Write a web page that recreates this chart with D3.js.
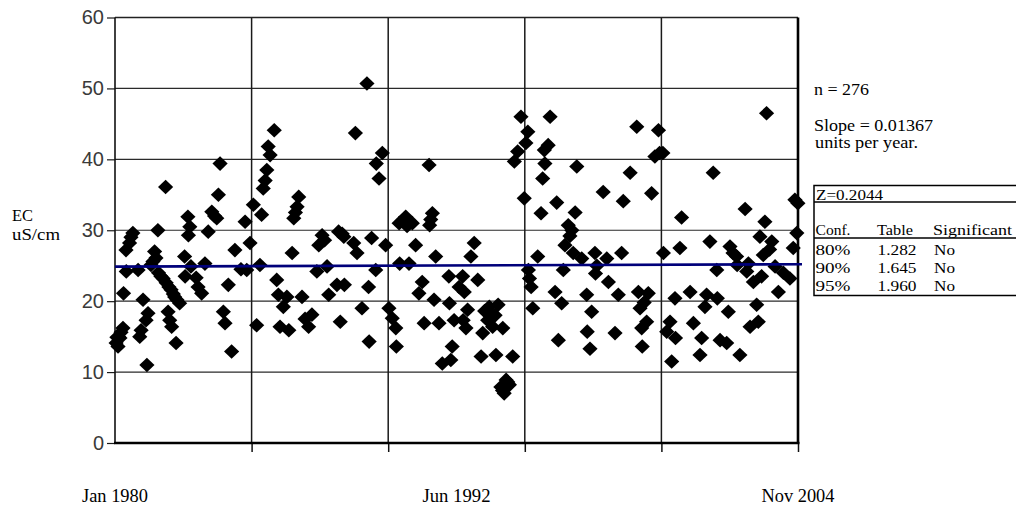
<!DOCTYPE html>
<html>
<head>
<meta charset="utf-8">
<script src="https://cdn.jsdelivr.net/npm/d3@7"></script>
<style>
  body { margin: 0; background: #fff; }
  svg { display: block; }
</style>
</head>
<body>
<svg id="chart" width="1016" height="508"></svg>
<script>
// Sample dates (decimal years) and electrical conductivity readings, uS/cm
const sampleYear = [
  1980.04,1980.07,1980.11,1980.13,1980.18,1980.22,1980.29,1980.31,1980.40,1980.41,
  1980.53,1980.58,1980.65,1980.84,1980.90,1980.95,1981.02,1981.13,1981.16,1981.20,
  1981.31,1981.38,1981.44,1981.49,1981.56,1981.58,1981.67,1981.75,1981.84,1981.86,
  1981.93,1981.96,1981.99,1982.04,1982.06,1982.12,1982.17,1982.22,1982.25,1982.35,
  1982.53,1982.55,1982.65,1982.67,1982.72,1982.76,1982.95,1983.02,1983.15,1983.27,
  1983.39,1983.52,1983.62,1983.70,1983.76,1983.82,1983.94,1984.00,1984.12,1984.24,
  1984.36,1984.58,1984.73,1984.79,1984.91,1985.03,1985.15,1985.27,1985.33,1985.39,
  1985.46,1985.52,1985.57,1985.64,1985.79,1985.88,1985.94,1986.00,1986.12,1986.25,
  1986.32,1986.44,1986.50,1986.56,1986.62,1986.68,1986.80,1986.91,1987.04,1987.16,
  1987.34,1987.41,1987.53,1987.62,1987.71,1987.77,1988.07,1988.13,1988.19,1988.26,
  1988.32,1988.34,1988.68,1988.74,1988.80,1988.98,1989.16,1989.22,1989.24,1989.33,
  1989.48,1989.50,1989.60,1989.72,1989.84,1989.96,1990.08,1990.21,1990.23,1990.33,
  1990.35,1990.45,1990.57,1990.62,1990.69,1990.81,1990.93,1991.05,1991.17,1991.24,
  1991.42,1991.44,1991.48,1991.54,1991.60,1991.66,1991.78,1991.90,1992.14,1992.16,
  1992.21,1992.26,1992.33,1992.51,1992.64,1992.66,1992.70,1992.76,1992.82,1992.94,
  1993.06,1993.19,1993.31,1993.37,1993.44,1993.55,1993.61,1993.67,1993.73,1993.82,
  1993.85,1993.93,1994.03,1994.09,1994.10,1994.15,1994.22,1994.28,1994.34,1994.46,
  1994.52,1994.64,1994.76,1994.88,1994.94,1995.01,1995.03,1995.07,1995.13,1995.19,
  1995.37,1995.49,1995.55,1995.61,1995.63,1995.75,1995.82,1996.00,1996.06,1996.12,
  1996.24,1996.30,1996.36,1996.48,1996.54,1996.61,1996.66,1996.73,1996.79,1996.97,
  1997.15,1997.17,1997.27,1997.33,1997.45,1997.47,1997.52,1997.75,1997.88,1997.94,
  1998.18,1998.30,1998.42,1998.48,1998.73,1998.97,1999.03,1999.09,1999.15,1999.17,
  1999.24,1999.33,1999.39,1999.51,1999.63,1999.76,1999.80,1999.92,1999.94,2000.06,
  2000.18,2000.24,2000.36,2000.38,2000.54,2000.60,2000.91,2001.03,2001.27,2001.33,
  2001.45,2001.51,2001.63,2001.75,2001.88,2001.90,2002.00,2002.24,2002.30,2002.36,
  2002.47,2002.60,2002.62,2002.72,2002.91,2002.97,2003.03,2003.09,2003.21,2003.33,
  2003.39,2003.45,2003.51,2003.57,2003.63,2003.69,2003.80,2003.88,2004.00,2004.12,
  2004.30,2004.54,2004.66,2004.72,2004.79,2004.83
];
const ecValue = [
  14.1,14.9,13.6,15.0,14.8,15.6,16.2,21.1,27.2,24.2,
  28.2,29.0,29.6,24.4,15.0,15.9,20.2,17.3,11.0,18.3,
  25.1,25.6,27.0,26.1,30.0,24.0,23.5,23.2,36.1,22.6,
  18.5,22.0,17.3,21.6,16.4,21.0,20.6,14.1,20.2,19.7,
  26.3,23.5,31.9,29.3,30.5,24.9,23.3,22.0,21.1,25.3,
  29.8,32.6,32.0,31.7,35.0,39.4,18.5,16.9,22.3,12.9,
  27.2,24.5,31.2,24.4,28.2,33.6,16.6,25.1,32.2,35.9,
  37.0,38.5,41.8,40.6,44.1,23.0,20.9,16.4,19.2,20.6,
  15.9,26.8,31.7,32.5,33.3,34.7,20.6,17.5,16.4,18.1,
  24.2,27.9,29.3,28.6,24.9,20.9,22.3,29.8,17.1,29.5,
  29.1,22.3,28.2,43.7,26.8,19.0,50.7,22.0,14.3,28.9,
  24.4,39.4,37.3,40.9,27.9,19.0,17.6,16.2,13.6,31.0,
  25.3,31.3,31.9,30.6,25.3,31.0,27.9,21.1,22.7,16.9,
  39.2,30.7,31.5,32.4,20.2,26.3,16.9,11.2,23.5,19.7,
  11.7,13.6,17.3,22.0,23.5,17.3,21.3,16.2,18.8,26.3,
  28.2,23.0,12.2,15.5,18.6,17.3,19.2,18.2,16.4,18.0,
  12.4,19.5,7.9,7.4,16.2,7.0,8.9,8.6,8.2,12.2,
  39.7,41.1,46.0,34.5,42.3,43.9,24.4,23.2,22.0,19.0,
  26.3,32.4,37.3,41.3,39.4,42.0,46.0,21.3,33.9,14.5,
  19.7,24.4,27.9,30.7,29.2,30.0,26.8,32.5,39.0,26.0,
  20.9,15.7,13.3,18.5,26.8,23.9,25.0,35.4,26.0,22.7,
  15.5,20.9,26.8,34.1,38.1,44.6,21.3,19.0,16.2,13.6,
  19.8,17.1,21.1,35.2,40.4,44.1,40.9,40.9,26.8,15.7,
  17.1,11.5,20.4,14.8,27.5,31.8,21.3,16.9,12.4,14.8,
  19.2,20.9,28.4,38.1,24.4,20.4,14.5,14.1,18.5,27.7,
  26.8,26.3,25.1,12.4,33.0,24.2,25.3,16.4,22.7,19.5,
  17.1,29.1,23.5,26.5,31.2,46.5,27.3,28.4,24.9,21.3,
  24.0,23.2,27.5,34.3,29.6,33.8
];

const yTicks = [0, 10, 20, 30, 40, 50, 60];
const dateLabels = ["Jan 1980", "Jun 1992", "Nov 2004"];
const dateLabelYears = [1980, 1992.417, 2004.833];

// Trend statistics
const slopePerYear = 0.01367;
const trendIntercept = 24.87;   // EC at start of record
const zStatistic = "0.2044";
const confLevels = ["80%", "90%", "95%"];
const tableValues = ["1.282", "1.645", "1.960"];
const significant = ["No", "No", "No"];

const plot = { left: 115, right: 798, top: 17.5, bottom: 443 };
const startYear = 1980, endYear = 2004.833;

const svg = d3.select("#chart");
const x = d3.scaleLinear().domain([startYear, endYear]).range([plot.left, plot.right]);
const y = d3.scaleLinear().domain([0, 60]).range([plot.bottom, plot.top]);

const SERIF = "'Liberation Serif', 'Times New Roman', serif";
const SANS = "'Liberation Sans', Arial, sans-serif";

// Grid: horizontal at each tick, vertical at five equal divisions of the record
const xGrid = d3.range(6).map(i => startYear + i * (endYear - startYear) / 5);

svg.append("g")
  .selectAll("line")
  .data(yTicks.filter(v => v > 0))
  .join("line")
  .attr("x1", plot.left).attr("x2", plot.right)
  .attr("y1", d => y(d)).attr("y2", d => y(d))
  .attr("stroke", "#2a2a2a").attr("stroke-width", 1.2);

svg.append("g")
  .selectAll("line")
  .data(xGrid.slice(1, 5))
  .join("line")
  .attr("x1", d => x(d)).attr("x2", d => x(d))
  .attr("y1", plot.top).attr("y2", plot.bottom)
  .attr("stroke", "#1a1a1a").attr("stroke-width", 1.5);

// Y axis with tick marks and labels
const yAxis = svg.append("g")
  .attr("transform", `translate(${plot.left},0)`)
  .call(d3.axisLeft(y).tickValues(yTicks).tickSize(8).tickPadding(3));
yAxis.select(".domain").remove();
yAxis.selectAll(".tick line").attr("stroke", "#1a1a1a").attr("stroke-width", 1.2);
yAxis.selectAll(".tick text")
  .attr("font-family", SANS).attr("font-size", 20).attr("fill", "#3a3a3a");

// Bottom tick marks at the vertical grid lines
const xAxis = svg.append("g")
  .attr("transform", `translate(0,${plot.bottom})`)
  .call(d3.axisBottom(x).tickValues(xGrid.slice(1)).tickSize(9).tickFormat(""));
xAxis.select(".domain").remove();
xAxis.selectAll(".tick line").attr("stroke", "#111").attr("stroke-width", 1.5);

// Plot frame
svg.append("line").attr("x1", plot.left).attr("x2", plot.right)
  .attr("y1", plot.top).attr("y2", plot.top).attr("stroke", "#222").attr("stroke-width", 1.3);
svg.append("line").attr("x1", plot.left).attr("x2", plot.left)
  .attr("y1", plot.top).attr("y2", plot.bottom).attr("stroke", "#111").attr("stroke-width", 1.6);
svg.append("line").attr("x1", plot.left - 1).attr("x2", plot.right + 1.5)
  .attr("y1", plot.bottom).attr("y2", plot.bottom).attr("stroke", "#000").attr("stroke-width", 2.6);
svg.append("line").attr("x1", plot.right).attr("x2", plot.right)
  .attr("y1", plot.top).attr("y2", plot.bottom).attr("stroke", "#000").attr("stroke-width", 2.6);

// Observations as filled diamonds
const diamond = "M0,-7.3L7.6,0L0,7.3L-7.6,0Z";
svg.append("g")
  .selectAll("path")
  .data(d3.zip(sampleYear, ecValue))
  .join("path")
  .attr("d", diamond)
  .attr("transform", d => `translate(${x(d[0])},${y(d[1])})`)
  .attr("fill", "#000");

// Trend line from the fitted slope
const trendEnd = x.invert(802);
svg.append("line")
  .attr("x1", x(startYear)).attr("y1", y(trendIntercept))
  .attr("x2", x(trendEnd)).attr("y2", y(trendIntercept + slopePerYear * (trendEnd - startYear)))
  .attr("stroke", "#00007a").attr("stroke-width", 2.6);

// Text helper with fixed rendered width
function label(px, py, str, size, width, anchor = "start") {
  const t = svg.append("text")
    .attr("x", px).attr("y", py)
    .attr("font-family", SERIF).attr("font-size", size)
    .attr("fill", "#000").attr("text-anchor", anchor)
    .text(str);
  if (width) t.attr("textLength", width).attr("lengthAdjust", "spacingAndGlyphs");
  return t;
}

// Y axis title
label(12, 221, "EC", 17, 21);
label(12, 240, "uS/cm", 17, 48);

// Date labels under the axis
dateLabels.forEach((s, i) => label(x(dateLabelYears[i]), 502, s, 18, [66, 68, 73][i], "middle"));

// Summary statistics
label(814, 95, `n = ${sampleYear.length}`, 17, 55);
label(814, 131, `Slope = ${slopePerYear}`, 17, 119);
label(815, 148, "units per year.", 17, 103);

// Significance table
const tbl = { left: 814, top: 185.5, right: 1030, zLine: 202, headLine: 238, bottom: 295.5 };
svg.append("rect")
  .attr("x", tbl.left).attr("y", tbl.top)
  .attr("width", tbl.right - tbl.left).attr("height", tbl.bottom - tbl.top)
  .attr("fill", "none").attr("stroke", "#000").attr("stroke-width", 1.5);
[tbl.zLine, tbl.headLine].forEach(ly => svg.append("line")
  .attr("x1", tbl.left).attr("x2", tbl.right).attr("y1", ly).attr("y2", ly)
  .attr("stroke", "#000").attr("stroke-width", 1.5));

label(816, 199.5, `Z=${zStatistic}`, 15, 67);
const cols = [815.5, 877, 933];
label(cols[0], 235, "Conf.", 15, 35);
label(cols[1], 235, "Table", 15, 36);
label(cols[2], 235, "Significant", 15, 79);
confLevels.forEach((c, i) => {
  const by = 255 + i * 17.8;
  label(cols[0], by, c, 15, 35);
  label(cols[1] + 0.5, by, tableValues[i], 15, 39);
  label(cols[2] + 1, by, significant[i], 15, 21);
});
</script>
</body>
</html>
